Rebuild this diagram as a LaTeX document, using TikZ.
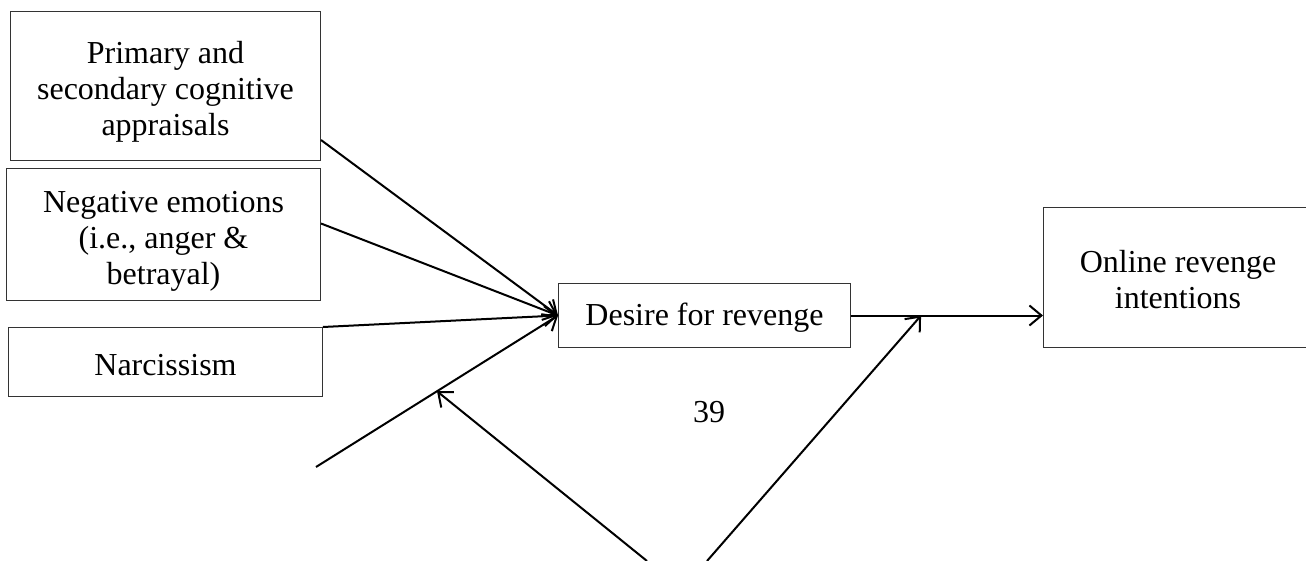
\documentclass[tikz,border=0pt]{standalone}
\usepackage{fontspec}
\setmainfont{Liberation Serif}
\usetikzlibrary{arrows.meta}

\begin{document}
\begin{tikzpicture}[
  x=0.5pt, y=-0.5pt,
  box/.style={draw=black!80, line width=0.5pt, inner sep=0pt, align=center, anchor=north west,
    font=\fontsize{16}{18}\selectfont},
  flow/.style={-{Straight Barb[length=6pt,width=10pt]}, line width=1pt}
]
\useasboundingbox (0,0) rectangle (1306,561);

% predictor blocks
\node[box, minimum width=155pt, minimum height=74.5pt, text height=50pt, text depth=0pt] (appr) at (10,11) {Primary and\\secondary cognitive\\appraisals};
\node[box, minimum width=157pt, minimum height=66pt, text height=49.6pt, text depth=0pt] (emo) at (6,168) {Negative emotions\\(i.e., anger \&\\betrayal)};
\node[box, minimum width=157pt, minimum height=34.5pt, text height=13.6pt, text depth=0pt] (narc) at (8,327) {Narcissism};

% mediator and outcome
\node[box, minimum width=146pt, minimum height=32pt, text depth=1.5pt] (desire) at (558,283) {Desire for revenge};
\node[box, minimum width=134.5pt, minimum height=70pt, text height=31pt, text depth=0pt] (online) at (1043,207) {Online revenge\\intentions};

% page number
\node[font=\fontsize{16}{18}\selectfont] (pnum) at (709,412) {39};

% loose ends
\coordinate (hub) at (desire.west);
\coordinate (low) at (316,467);
\coordinate (footl) at (647,561);
\coordinate (footr) at (707,561);

% arrows into desire
\draw[flow] ([yshift=-27pt]appr.east) -- (hub);
\draw[flow] ([yshift=5.5pt]emo.east) -- (hub);
\draw[flow] (narc.north east) -- (hub);
\draw[flow] (low) -- coordinate[pos=0.5] (mid) (hub);

% desire to outcome
\draw[flow] (desire.east) -- coordinate[pos=0.365] (join) (online.west |- desire.east);

% arrows from below
\draw[flow] (footl) -- (mid);
\draw[flow] (footr) -- (join);

\end{tikzpicture}
\end{document}
